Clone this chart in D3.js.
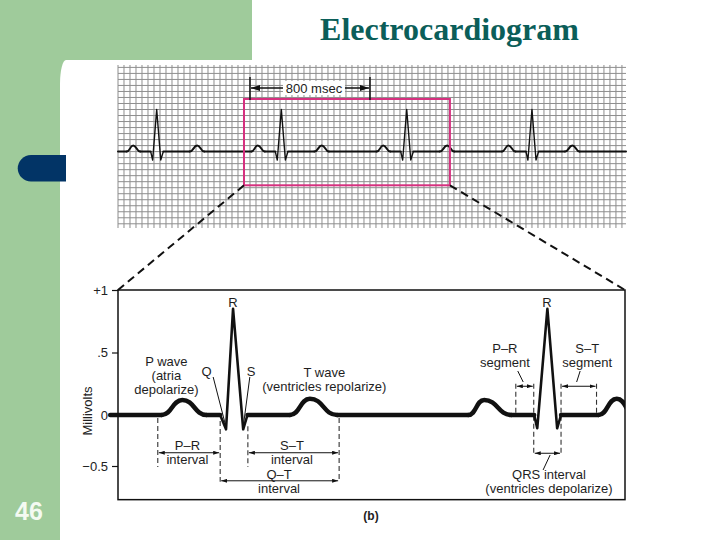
<!DOCTYPE html>
<html>
<head>
<meta charset="utf-8">
<title>Electrocardiogram</title>
<script src="https://cdn.jsdelivr.net/npm/d3@7"></script>
<style>
    body { margin: 0; background: #fff; }
    svg { display: block; }
    text { font-family: "Liberation Sans", Arial, sans-serif; }
</style>
</head>
<body>
<div id="chart"></div>
<script>
"use strict";

let svg = ""; // keep SVG reference in global scope
let stripX, stripY, detailX, detailY;

// ---- top strip (ms, mV) ----
const stripMs = [0, 3387];
const stripMv = [-1.27, 1.44];
const stripR = [258, 1089, 1925, 2760];              // R peak times
const stripP = [[-200, 0], [-157, 0.1], [-110, 0]];   // relative to R
const stripQRS = [[-40, 0], [-27, -0.14], [0, 0.7], [27, -0.14], [44, 0]];
const stripT = [[220, 0], [270, 0.1], [317, 0]];
const zoomMs = [840, 2213];
const zoomMv = [0.875, -0.56];
const rrMs = [880, 1680];
const rrTickMv = [1.24, 0.86];
const rrArrowMv = 1.057;
const rrLabel = "800 msec";

// ---- lower detail (ms, mV) ----
const detailMs = [0, 1300];
const detailMv = [1, -0.83];
const traceMs = [-20, 1300];
const detailP = [[[112, 0], [165, 0.12], [227, 0]], [[898, 0], [939, 0.12], [1009, 0]]];
const detailQRS = [
    [[262, 0], [277, -0.14], [295, 0.85], [321, -0.14], [332, 0]],
    [[1067, 0], [1075, -0.13], [1101, 0.85], [1126, -0.13], [1136, 0]]
];
const detailT = [[[441, 0], [492, 0.13], [562, 0]], [[1232, 0], [1279, 0.13], [1326, 0]]];
const yTicks = [-0.5, 0, 0.5, 1];
const yTickLabels = ["\u22120.5", "0", ".5", "+1"];

// dashed guides: [ms, mV from, mV to]
const dashMarks = [[102, -0.03, -0.51], [262, -0.06, -0.655], [333, -0.11, -0.51], [567, -0.03, -0.655],
    [1020, 0.25, -0.02], [1066, 0.25, -0.39], [1136, 0.25, -0.39], [1227, 0.25, -0.01]];
// double arrows: [ms from, ms to, mV]
const spans = [[102, 262, -0.37], [333, 567, -0.37], [262, 567, -0.645],
    [1020, 1066, 0.23], [1136, 1227, 0.23], [1066, 1136, -0.375]];
// leader lines: [ms, mV, ms, mV]
const pointers = [[244, 0.304, 277, -0.118], [338, 0.304, 321, -0.118], [1025, 0.352, 1039, 0.264],
    [1185, 0.352, 1176, 0.264], [1108, -0.392, 1090, -0.539]];
const labels = [
    {lines: ["R"], ms: 295, mV: 0.904},
    {lines: ["R"], ms: 1100, mV: 0.904},
    {lines: ["P wave", "(atria", "depolarize)"], ms: 124, mV: 0.43},
    {lines: ["Q"], ms: 227, mV: 0.346},
    {lines: ["S"], ms: 341, mV: 0.346},
    {lines: ["T wave", "(ventricles repolarize)"], ms: 529, mV: 0.344},
    {lines: ["P\u2013R", "interval"], ms: 178, mV: -0.295},
    {lines: ["S\u2013T", "interval"], ms: 446, mV: -0.295},
    {lines: ["Q\u2013T", "interval"], ms: 413, mV: -0.582},
    {lines: ["P\u2013R", "segment"], ms: 992, mV: 0.534},
    {lines: ["S\u2013T", "segment"], ms: 1203, mV: 0.534},
    {lines: ["QRS interval", "(ventricles depolarize)"], ms: 1105, mV: -0.578}
];

window.onload = function () {
    svg = d3.select("#chart")
        .append("svg")
        .attr("width", 720)
        .attr("height", 540);
    makeMarkers();
    drawSlide();
    drawStrip();
    drawDetail();
    drawConnectors();
}

// arrow heads
function makeMarkers() {
    let defs = svg.append("defs");
    [["headSmall", 6, 4], ["headBig", 9, 6]].forEach(([id, w, h]) => {
        defs.append("marker")
            .attr("id", id)
            .attr("markerUnits", "userSpaceOnUse")
            .attr("markerWidth", w)
            .attr("markerHeight", h)
            .attr("refX", w)
            .attr("refY", h / 2)
            .attr("orient", "auto-start-reverse")
            .append("path")
            .attr("d", "M0,0 L" + w + "," + (h / 2) + " L0," + h + " Z")
            .attr("fill", "#111");
    });
    defs.append("clipPath").attr("id", "detailClip")
        .append("rect").attr("x", 100).attr("y", 280).attr("width", 525).attr("height", 230);
}

// green slide background, tab, page number, title
function drawSlide() {
    svg.append("rect").attr("width", 720).attr("height", 540).attr("fill", "#9fcb9b");
    svg.append("rect").attr("x", 252).attr("y", -50).attr("width", 520).attr("height", 120).attr("fill", "#fff");
    svg.append("rect").attr("x", 60).attr("y", 60).attr("width", 700).attr("height", 520)
        .attr("rx", 6).attr("ry", 24).attr("fill", "#fff");
    svg.append("path")
        .attr("d", "M66,155 L31,155 A13,13 0 0 0 31,181.5 L66,181.5 Z")
        .attr("fill", "#023466");
    svg.append("text")
        .attr("x", 29).attr("y", 520)
        .attr("text-anchor", "middle")
        .style("font-size", "25px").style("font-weight", "bold")
        .attr("fill", "#f4faf2")
        .text("46");
    svg.append("text")
        .attr("x", 449.5).attr("y", 39.5)
        .attr("text-anchor", "middle")
        .style("font-family", "'Liberation Serif', 'Times New Roman', serif")
        .style("font-size", "32px").style("font-weight", "bold")
        .attr("fill", "#0b5e59")
        .text("Electrocardiogram");
}

// split a trace into flat / wave / spike runs
function buildRuns(pieces, span) {
    pieces.sort((a, b) => a.pts[0][0] - b.pts[0][0]);
    let runs = [];
    let t = span[0];
    pieces.forEach((p) => {
        runs.push({kind: "flat", pts: [[t, 0], [p.pts[0][0], 0]]});
        runs.push(p);
        t = p.pts[p.pts.length - 1][0];
    });
    if (t < span[1]) runs.push({kind: "flat", pts: [[t, 0], [span[1], 0]]});
    return runs;
}

function drawTrace(g, runs, x, y, widths) {
    let line = d3.line().x(d => x(d[0])).y(d => y(d[1]));
    g.selectAll(".run")
        .data(runs)
        .enter()
        .append("path")
        .attr("d", d => line.curve(d.kind === "wave" ? d3.curveBumpX : d3.curveLinear)(d.pts))
        .attr("fill", "none")
        .attr("stroke", "#111")
        .attr("stroke-width", d => widths[d.kind])
        .attr("stroke-linecap", "round")
        .attr("stroke-linejoin", "round");
}

// top rhythm strip on grid paper
function drawStrip() {
    stripX = d3.scaleLinear().domain(stripMs).range([118, 626]);
    stripY = d3.scaleLinear().domain(stripMv).range([228, 65]);
    let g = svg.append("g");

    g.selectAll(".vgrid")
        .data(d3.range(stripMs[0], stripMs[1] + 1, 40))
        .enter().append("line")
        .attr("x1", d => stripX(d)).attr("x2", d => stripX(d))
        .attr("y1", stripY.range()[0]).attr("y2", stripY.range()[1])
        .attr("stroke", "#8e8e8e").attr("stroke-width", 1);
    g.selectAll(".hgrid")
        .data(d3.range(-12, 15).map(k => k / 10))
        .enter().append("line")
        .attr("x1", stripX.range()[0]).attr("x2", stripX.range()[1])
        .attr("y1", d => stripY(d)).attr("y2", d => stripY(d))
        .attr("stroke", "#8e8e8e").attr("stroke-width", 1);

    let pieces = [];
    stripR.forEach((r) => {
        pieces.push({kind: "wave", pts: stripP.map(([t, v]) => [r + t, v])});
        pieces.push({kind: "spike", pts: stripQRS.map(([t, v]) => [r + t, v])});
        pieces.push({kind: "wave", pts: stripT.map(([t, v]) => [r + t, v])});
    });
    drawTrace(g, buildRuns(pieces, stripMs), stripX, stripY, {flat: 2, wave: 2, spike: 1.4});

    // magnified window
    g.append("rect")
        .attr("x", stripX(zoomMs[0])).attr("y", stripY(zoomMv[0]))
        .attr("width", stripX(zoomMs[1]) - stripX(zoomMs[0]))
        .attr("height", stripY(zoomMv[1]) - stripY(zoomMv[0]))
        .attr("fill", "none").attr("stroke", "#d6307f").attr("stroke-width", 2);

    // 800 msec marker
    rrMs.forEach((t) => {
        g.append("line")
            .attr("x1", stripX(t)).attr("x2", stripX(t))
            .attr("y1", stripY(rrTickMv[0])).attr("y2", stripY(rrTickMv[1]))
            .attr("stroke", "#111").attr("stroke-width", 1.5);
    });
    g.append("line")
        .attr("x1", stripX(rrMs[0]) + 1).attr("x2", stripX(rrMs[1]) - 1)
        .attr("y1", stripY(rrArrowMv)).attr("y2", stripY(rrArrowMv))
        .attr("stroke", "#111").attr("stroke-width", 1.5)
        .attr("marker-start", "url(#headBig)").attr("marker-end", "url(#headBig)");
    let cx = (stripX(rrMs[0]) + stripX(rrMs[1])) / 2 + 4;
    g.append("rect")
        .attr("x", cx - 31).attr("y", stripY(rrArrowMv) - 7)
        .attr("width", 62).attr("height", 14).attr("fill", "#fff");
    g.append("text")
        .attr("x", cx).attr("y", stripY(rrArrowMv))
        .attr("dy", "0.35em").attr("text-anchor", "middle")
        .style("font-size", "13px").attr("fill", "#222")
        .text(rrLabel);
}

// lower labelled ECG
function drawDetail() {
    detailX = d3.scaleLinear().domain(detailMs).range([118, 625]);
    detailY = d3.scaleLinear().domain([-0.5, 0, 1]).range([466, 415, 290]);
    let g = svg.append("g");

    g.append("rect")
        .attr("x", detailX(detailMs[0])).attr("y", detailY(detailMv[0]))
        .attr("width", detailX(detailMs[1]) - detailX(detailMs[0]))
        .attr("height", detailY(detailMv[1]) - detailY(detailMv[0]))
        .attr("fill", "#fff").attr("stroke", "#111").attr("stroke-width", 1.5);

    let yAxis = d3.axisLeft(detailY)
        .tickValues(yTicks)
        .tickFormat((d, i) => yTickLabels[i])
        .tickSize(6)
        .tickPadding(4);
    let ax = g.append("g")
        .attr("transform", "translate(" + detailX(detailMs[0]) + ", 0)")
        .call(yAxis);
    ax.select(".domain").remove();
    ax.selectAll("line").attr("stroke", "#111").attr("stroke-width", 1.2);
    ax.selectAll("text")
        .style("font-size", "13px")
        .style("font-family", "'Liberation Sans', Arial, sans-serif")
        .attr("fill", "#222");

    g.append("text")
        .attr("transform", "translate(87, 411) rotate(-90)")
        .attr("text-anchor", "middle").attr("dy", "0.35em")
        .style("font-size", "13px").attr("fill", "#222")
        .text("Millivolts");

    // dashed guides
    g.selectAll(".guide")
        .data(dashMarks)
        .enter().append("line")
        .attr("x1", d => detailX(d[0])).attr("x2", d => detailX(d[0]))
        .attr("y1", d => detailY(d[1])).attr("y2", d => detailY(d[2]))
        .attr("stroke", "#333").attr("stroke-width", 1.1)
        .attr("stroke-dasharray", "5,3");

    // the trace
    let pieces = [];
    detailP.forEach(p => pieces.push({kind: "wave", pts: p}));
    detailQRS.forEach(p => pieces.push({kind: "spike", pts: p}));
    detailT.forEach(p => pieces.push({kind: "wave", pts: p}));
    let tg = g.append("g").attr("clip-path", "url(#detailClip)");
    drawTrace(tg, buildRuns(pieces, traceMs), detailX, detailY, {flat: 4.5, wave: 4.5, spike: 2.6});

    // double arrows
    g.selectAll(".span")
        .data(spans)
        .enter().append("line")
        .attr("x1", d => detailX(d[0]) + 1).attr("x2", d => detailX(d[1]) - 1)
        .attr("y1", d => detailY(d[2])).attr("y2", d => detailY(d[2]))
        .attr("stroke", "#111").attr("stroke-width", 1)
        .attr("marker-start", "url(#headSmall)").attr("marker-end", "url(#headSmall)");

    // leader lines
    g.selectAll(".pointer")
        .data(pointers)
        .enter().append("line")
        .attr("x1", d => detailX(d[0])).attr("y1", d => detailY(d[1]))
        .attr("x2", d => detailX(d[2])).attr("y2", d => detailY(d[3]))
        .attr("stroke", "#111").attr("stroke-width", 1);

    // text labels
    let lab = g.selectAll(".lab")
        .data(labels)
        .enter().append("text")
        .attr("text-anchor", "middle")
        .style("font-size", "13px")
        .attr("fill", "#1e1e1e");
    lab.selectAll("tspan")
        .data(d => d.lines.map((s, i) => ({s: s, i: i, d: d})))
        .enter().append("tspan")
        .attr("x", o => detailX(o.d.ms))
        .attr("y", o => detailY(o.d.mV) + o.i * 14)
        .attr("dy", "0.35em")
        .text(o => o.s);

    g.append("text")
        .attr("x", 371).attr("y", 516)
        .attr("dy", "0.35em").attr("text-anchor", "middle")
        .style("font-size", "12px").style("font-weight", "bold")
        .attr("fill", "#222")
        .text("(b)");
}

// dashed lines from magnified window to the detail panel
function drawConnectors() {
    let pairs = [
        [[stripX(zoomMs[0]), stripY(zoomMv[1])], [detailX(detailMs[0]), detailY(detailMv[0])]],
        [[stripX(zoomMs[1]), stripY(zoomMv[1])], [detailX(detailMs[1]), detailY(detailMv[0])]]
    ];
    svg.selectAll(".conn")
        .data(pairs)
        .enter().append("line")
        .attr("x1", d => d[0][0]).attr("y1", d => d[0][1])
        .attr("x2", d => d[1][0]).attr("y2", d => d[1][1])
        .attr("stroke", "#111").attr("stroke-width", 2)
        .attr("stroke-dasharray", "8,5");
}
</script>
</body>
</html>
